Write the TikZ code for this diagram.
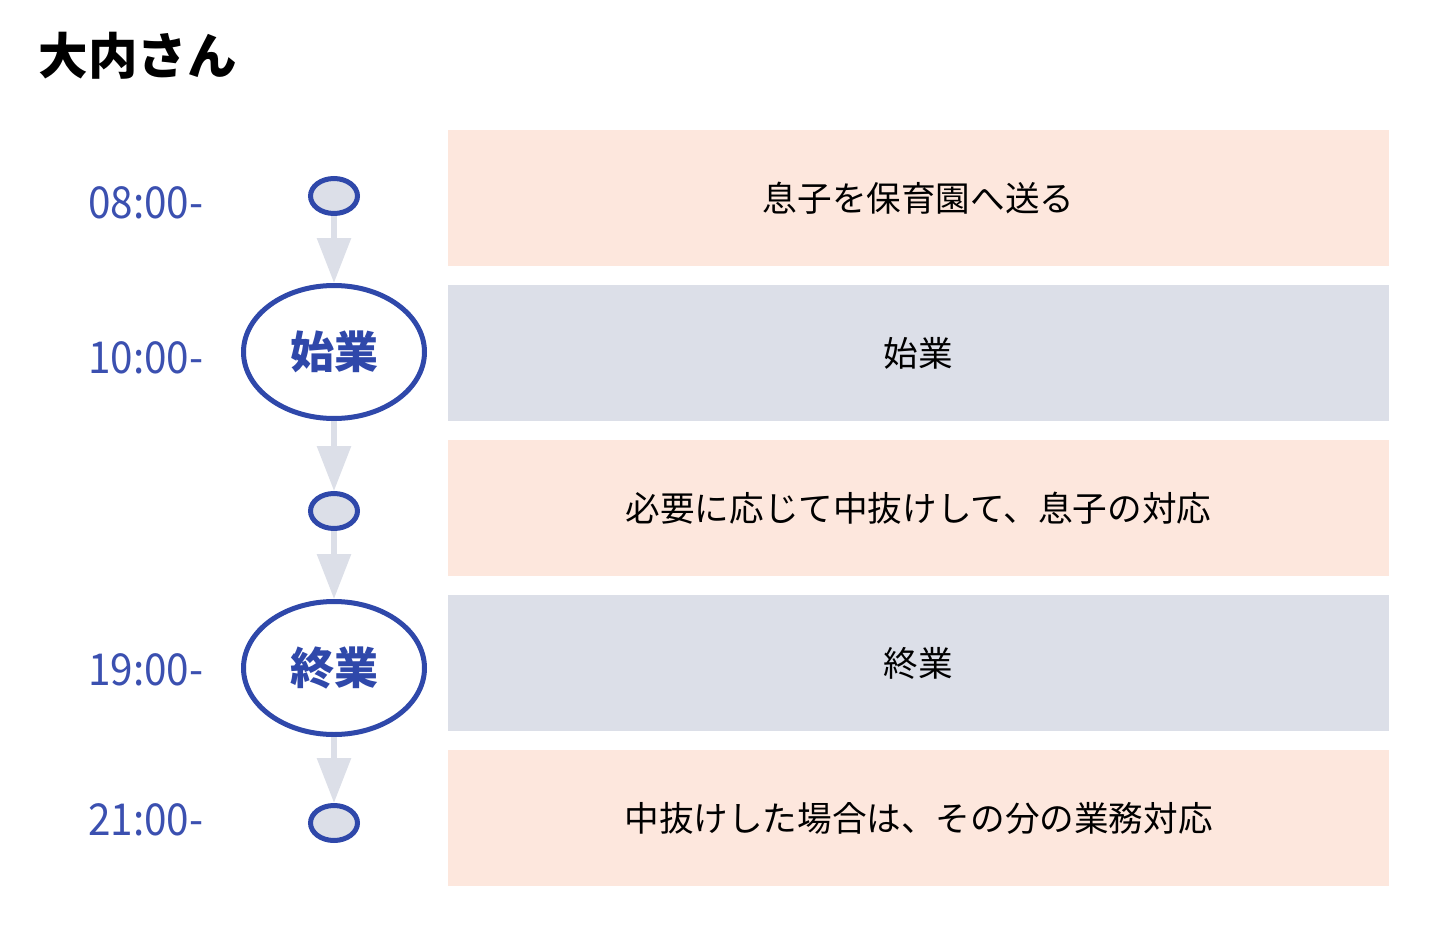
\documentclass[tikz,border=0pt]{standalone}
\usepackage{fontspec}
\setmainfont{Noto Sans CJK JP}
\newfontfamily\timef[FakeStretch=0.92]{Noto Sans CJK JP}
\usetikzlibrary{shapes.geometric,arrows.meta}
\definecolor{peach}{HTML}{FDE7DD}
\definecolor{grayblue}{HTML}{DCDFE8}
\definecolor{navy}{HTML}{2F48AA}
\definecolor{timec}{HTML}{3B50B0}
\tikzset{
  x=1pt,y=-1pt,
  rowbox/.style={minimum width=941pt,minimum height=136pt,inner sep=0pt,font=\fontsize{34.6}{35}\selectfont},
  pbox/.style={rowbox,fill=peach},
  gbox/.style={rowbox,fill=grayblue},
  smallell/.style={ellipse,draw=navy,line width=5pt,fill=grayblue,minimum width=47pt,minimum height=35pt,inner sep=0pt},
  bigell/.style={ellipse,draw=navy,line width=5pt,fill=white,minimum width=181pt,minimum height=133pt,inner sep=0pt,text=navy,font=\fontsize{44}{44}\selectfont\bfseries},
  timelbl/.style={anchor=east,text=timec,font=\timef\fontsize{44}{44}\selectfont},
  flow/.style={draw=grayblue,line width=6pt,-{Triangle[length=45pt,width=33pt]}}
}
\begin{document}
\begin{tikzpicture}
\useasboundingbox (0,0) rectangle (1440,939);
\node[anchor=west,font=\fontsize{49.5}{50}\selectfont\bfseries] (title) at (35,56) {大内さん};
\node[pbox] (b1) at (918.5,198) {息子を保育園へ送る};
\node[gbox] (b2) at (918.5,353) {始業};
\node[pbox] (b3) at (918.5,508) {必要に応じて中抜けして、息子の対応};
\node[gbox] (b4) at (918.5,663) {終業};
\node[pbox] (b5) at (918.5,818) {中抜けした場合は、その分の業務対応};
\node[smallell] (e1) at (334,196) {};
\node[bigell] (e2) at (334,352) {始業};
\node[smallell] (e3) at (334,511) {};
\node[bigell] (e4) at (334,668) {終業};
\node[smallell] (e5) at (334,823) {};
\draw[flow] (e1) -- (e2);
\draw[flow] (e2) -- (e3);
\draw[flow] (e3) -- (e4);
\draw[flow] (e4) -- (e5);
\node[timelbl] (t1) at (207,203) {08:00-};
\node[timelbl] (t2) at (207,358) {10:00-};
\node[timelbl] (t3) at (207,670) {19:00-};
\node[timelbl] (t4) at (207,820) {21:00-};
\end{tikzpicture}
\end{document}
